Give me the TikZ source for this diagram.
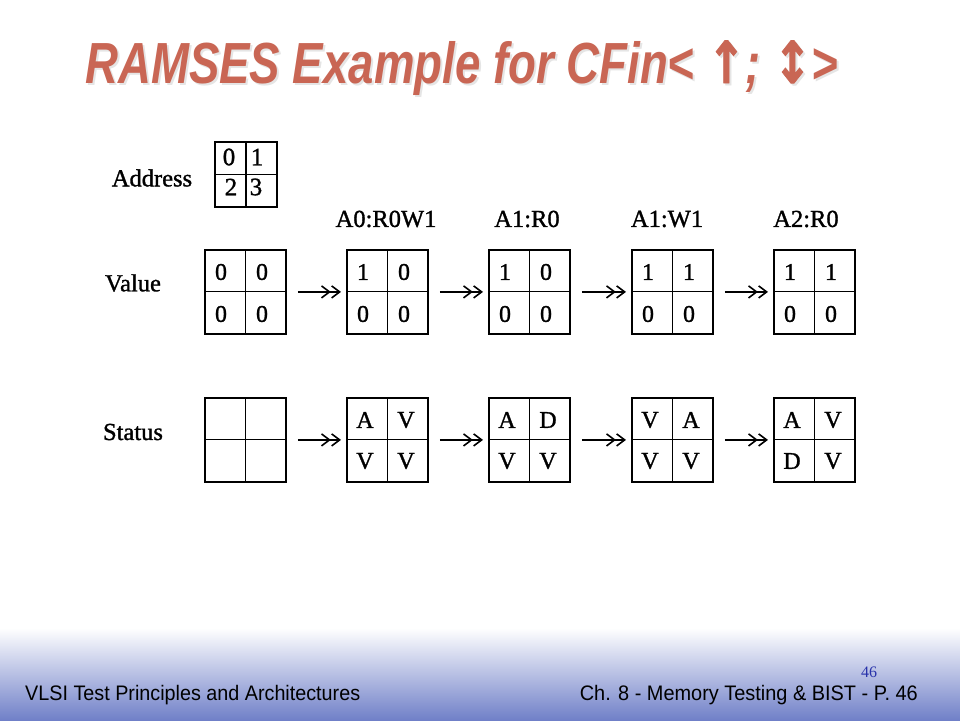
\documentclass[tikz,border=0pt]{standalone}
\usepackage{fontspec}
\setmainfont{Liberation Serif}
\newfontfamily\scanserif[FakeBold=1.2]{Liberation Serif}
\newfontfamily\sansf{Liberation Sans}
\newfontfamily\arrowf[FakeBold=1.5]{DejaVu Sans}
\usetikzlibrary{arrows.meta}
\definecolor{titlered}{RGB}{201,102,84}
\definecolor{footblue}{RGB}{112,128,200}
\definecolor{numblue}{RGB}{40,50,170}
\newcommand{\bigarrow}[1]{{\arrowf\bfseries\itshape #1}}
\newcommand{\titletext}{RAMSES Example for CFin< \bigarrow{↑}; \bigarrow{↕}>}
\begin{document}
\begin{tikzpicture}[x=1pt,y=-1pt,
  grid/.style={draw=black,line width=1.8pt,minimum width=81pt,minimum height=84pt,inner sep=0pt,anchor=north west},
  addrgrid/.style={draw=black,line width=1.6pt,minimum width=62pt,minimum height=65pt,inner sep=0pt,anchor=north west},
  innerline/.style={line width=1.1pt},
  cell/.style={font=\scanserif\fontsize{24}{24}\selectfont,inner sep=0pt},
  acell/.style={font=\scanserif\fontsize{25}{25}\selectfont,inner sep=0pt},
  lbl/.style={font=\scanserif\fontsize{24.5}{26}\selectfont,inner sep=0pt},
  flow/.style={line width=1.3pt,-{Straight Barb[length=8pt,width=12pt,line width=1.6pt]Straight Barb[length=8pt,width=12pt,line width=1.6pt,sep=-5pt]}}]
\useasboundingbox (0,0) rectangle (960,720);
\fill[white] (0,0) rectangle (960,720);
\shade[top color=white,bottom color=footblue] (0,628) rectangle (960,720);

% title
\node[anchor=base west,inner sep=0pt,text=black!10,font=\sansf\bfseries\itshape\fontsize{58}{60}\selectfont] (titleshadow) at (87,85) {\resizebox{753pt}{\height}{\titletext}};
\node[anchor=base west,inner sep=0pt,text=titlered,font=\sansf\bfseries\itshape\fontsize{58}{60}\selectfont] (title) at (85,83) {\resizebox{753pt}{\height}{\titletext}};

% row labels
\node[lbl] (laddr) at (152,178) {Address};
\node[lbl] (lval) at (133,283) {Value};
\node[lbl] (lstat) at (133,432) {Status};

% address grid
\node[addrgrid] (addr) at (214,141) {};
\draw[innerline] (246,141) -- (246,206);
\draw[innerline] (addr.west) -- (addr.east);
\node[acell] (a0) at (229,157) {0};
\node[acell] (a1) at (257,157) {1};
\node[acell] (a2) at (231,187) {2};
\node[acell] (a3) at (256,187) {3};

% column labels
\node[lbl] (c1) at (386,219) {A0:R0W1};
\node[lbl] (c2) at (527,219) {A1:R0};
\node[lbl] (c3) at (667,219) {A1:W1};
\node[lbl] (c4) at (806,219) {A2:R0};

% value and status boxes
\foreach \i/\x/\va/\vb/\vc/\vd/\sa/\sb/\sc/\sd in
  {0/204/0/0/0/0/{}/{}/{}/{},
   1/346/1/0/0/0/A/V/V/V,
   2/488/1/0/0/0/A/D/V/V,
   3/631/1/1/0/0/V/A/V/V,
   4/773/1/1/0/0/A/V/D/V}{
  \node[grid] (v\i) at (\x,249) {};
  \draw[innerline] (v\i.north) -- (v\i.south);
  \draw[innerline] (v\i.west) -- (v\i.east);
  \node[cell] (v\i a) at (\x+17,272) {\va};
  \node[cell] (v\i b) at (\x+58,272) {\vb};
  \node[cell] (v\i c) at (\x+17,314) {\vc};
  \node[cell] (v\i d) at (\x+58,314) {\vd};
  \node[grid] (s\i) at (\x,397) {};
  \draw[innerline] (s\i.north) -- (s\i.south);
  \draw[innerline] (s\i.west) -- (s\i.east);
  \node[cell] (s\i a) at (\x+19,420) {\sa};
  \node[cell] (s\i b) at (\x+60,420) {\sb};
  \node[cell] (s\i c) at (\x+19,461) {\sc};
  \node[cell] (s\i d) at (\x+60,461) {\sd};
}
\foreach \i/\j in {0/1,1/2,2/3,3/4}{
  \draw[flow] ([xshift=11pt]v\i.east) -- ([xshift=-10pt]v\j.west);
  \draw[flow] ([xshift=11pt]s\i.east) -- ([xshift=-10pt]s\j.west);
}

% footer
\node[anchor=base west,inner sep=0pt,font=\sansf\fontsize{21}{22}\selectfont] (footl) at (25,700) {\resizebox{335pt}{\height}{VLSI Test Principles and Architectures}};
\node[anchor=base east,inner sep=0pt,font=\sansf\fontsize{21}{22}\selectfont] (footr) at (918,700) {\resizebox{338pt}{\height}{Ch. 8 - Memory Testing \& BIST - P. 46}};
\node[font=\fontsize{16}{16}\selectfont,text=numblue,inner sep=0pt] (pnum) at (869,672) {46};
\end{tikzpicture}
\end{document}
